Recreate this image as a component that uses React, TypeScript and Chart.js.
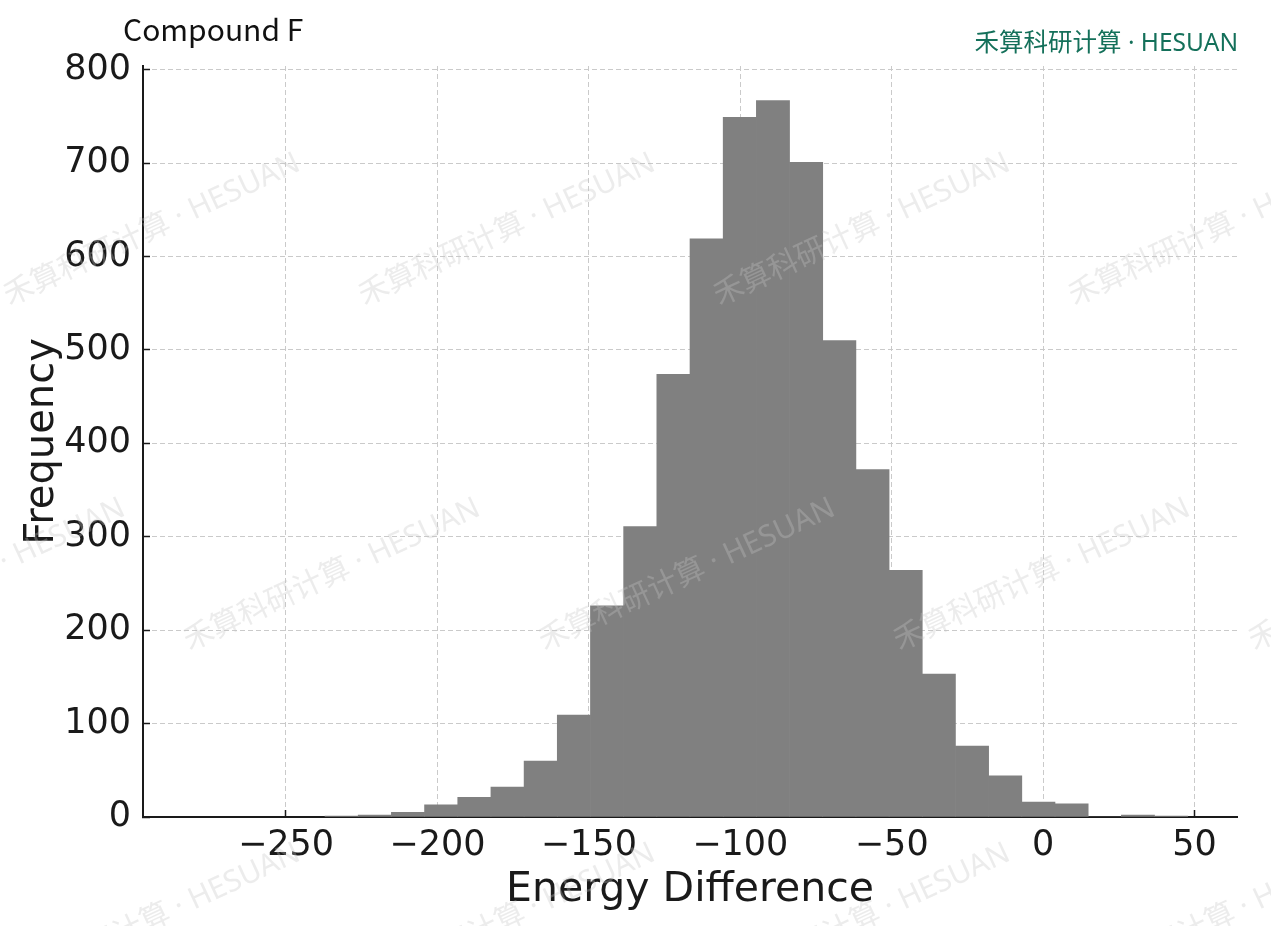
import { useEffect, useRef } from "react"
import { Chart, registerables } from "chart.js"

Chart.register(...registerables)

// histogram bin edges (Energy Difference) and counts per bin
const binEdges = [
  -237.1, -226.15, -215.19, -204.24, -193.28, -182.33, -171.37, -160.42, -149.46,
  -138.51, -127.55, -116.6, -105.64, -94.69, -83.73, -72.78, -61.82, -50.87,
  -39.91, -28.96, -18.0, -7.05, 3.91, 14.87, 25.82, 36.78, 47.73,
]
const counts = [
  1, 2, 5, 13, 21, 32, 60, 109, 226, 311, 474, 619, 749, 767, 701, 510, 372, 264,
  153, 76, 44, 16, 14, 0, 2, 1,
]
const xTicks = [-250, -200, -150, -100, -50, 0, 50]
const yTicks = [0, 100, 200, 300, 400, 500, 600, 700, 800]

const chartTitle = "Compound F"
const brand = "禾算科研计算 · HESUAN"

const fmt = (v: number) => (v < 0 ? "\u2212" + Math.abs(v) : String(v))

// title, brand tag and the faint diagonal watermarks
const decorations = {
  id: "decorations",
  afterDraw(chart: Chart) {
    const ctx = chart.ctx
    ctx.save()
    ctx.font = '30px "Noto Sans", "Noto Sans CJK SC"'
    ctx.fillStyle = "rgba(195,195,195,0.32)"
    ctx.textAlign = "center"
    ctx.textBaseline = "middle"
    const rows = [
      [152, 230],
      [332, 575],
      [152, 920],
    ]
    for (const [x0, y] of rows) {
      for (let x = x0 - 710; x < 1271 + 355; x += 355) {
        ctx.save()
        ctx.translate(x, y)
        ctx.rotate((-25 * Math.PI) / 180)
        ctx.fillText(brand, 0, 0)
        ctx.restore()
      }
    }

    ctx.textBaseline = "alphabetic"
    ctx.textAlign = "left"
    ctx.fillStyle = "#111"
    ctx.font = '30px "Noto Sans CJK SC"'
    ctx.fillText(chartTitle, 123, 41)

    ctx.textAlign = "right"
    ctx.fillStyle = "#14705a"
    ctx.font = '24.5px "Noto Sans", "Noto Sans CJK SC"'
    ctx.fillText(brand, 1238, 51)
    ctx.restore()
  },
}

export default function App() {
  const chartRef = useRef<HTMLCanvasElement>(null)
  const chartInstance = useRef<Chart | null>(null)

  useEffect(() => {
    if (!chartRef.current) return
    if (chartInstance.current) chartInstance.current.destroy()

    const points = counts.map((c, i) => ({ x: (binEdges[i] + binEdges[i + 1]) / 2, y: c }))

    chartInstance.current = new Chart(chartRef.current, {
      type: "bar",
      data: {
        datasets: [
          {
            data: points,
            backgroundColor: "#808080",
            borderWidth: 0,
            barPercentage: 1,
            categoryPercentage: 1,
            grouped: false,
          },
        ],
      },
      options: {
        animation: false,
        responsive: true,
        maintainAspectRatio: false,
        devicePixelRatio: 1,
        layout: { padding: { top: 66, right: 34, left: 0, bottom: 0 } },
        plugins: { legend: { display: false }, tooltip: { enabled: false } },
        scales: {
          x: {
            type: "linear",
            min: -297.2,
            max: 64,
            offset: false,
            z: 1,
            afterBuildTicks: (scale: any) => {
              scale.ticks = xTicks.map((v) => ({ value: v }))
            },
            afterFit: (scale: any) => {
              scale.height = 109
            },
            ticks: {
              autoSkip: false,
              maxRotation: 0,
              padding: 15,
              color: "#1a1a1a",
              font: { family: "DejaVu Sans", size: 35 },
              callback: (v: any) => fmt(Number(v)),
            },
            grid: {
              offset: false,
              color: "#cacaca",
              lineWidth: 1,
              tickLength: -7,
              tickColor: "#1a1a1a",
              tickWidth: 1.5,
            },
            border: { display: true, color: "#1a1a1a", width: 2, dash: [5, 3] },
            title: {
              display: true,
              text: "Energy Difference",
              color: "#1a1a1a",
              font: { family: "DejaVu Sans", size: 41 },
              padding: { top: 0, bottom: 11 },
            },
          },
          y: {
            min: 0,
            max: 804,
            z: 1,
            afterBuildTicks: (scale: any) => {
              scale.ticks = yTicks.map((v) => ({ value: v }))
            },
            afterFit: (scale: any) => {
              scale.width = 143
            },
            ticks: {
              autoSkip: false,
              padding: 19,
              color: "#1a1a1a",
              font: { family: "DejaVu Sans", size: 35 },
              callback: (v: any) => fmt(Number(v)),
            },
            grid: {
              color: "#cacaca",
              lineWidth: 1,
              tickLength: -7,
              tickColor: "#1a1a1a",
              tickWidth: 1.5,
            },
            border: { display: true, color: "#1a1a1a", width: 2, dash: [5, 3] },
            title: {
              display: true,
              text: "Frequency",
              color: "#1a1a1a",
              font: { family: "DejaVu Sans", size: 40 },
              padding: { top: 19, bottom: 0 },
            },
          },
        },
      },
      plugins: [decorations],
    })

    return () => {
      if (chartInstance.current) {
        chartInstance.current.destroy()
        chartInstance.current = null
      }
    }
  }, [])

  return (
    <div style={{ position: "fixed", left: 0, top: 0, width: 1271, height: 926, background: "#fff" }}>
      <canvas ref={chartRef} />
    </div>
  )
}
